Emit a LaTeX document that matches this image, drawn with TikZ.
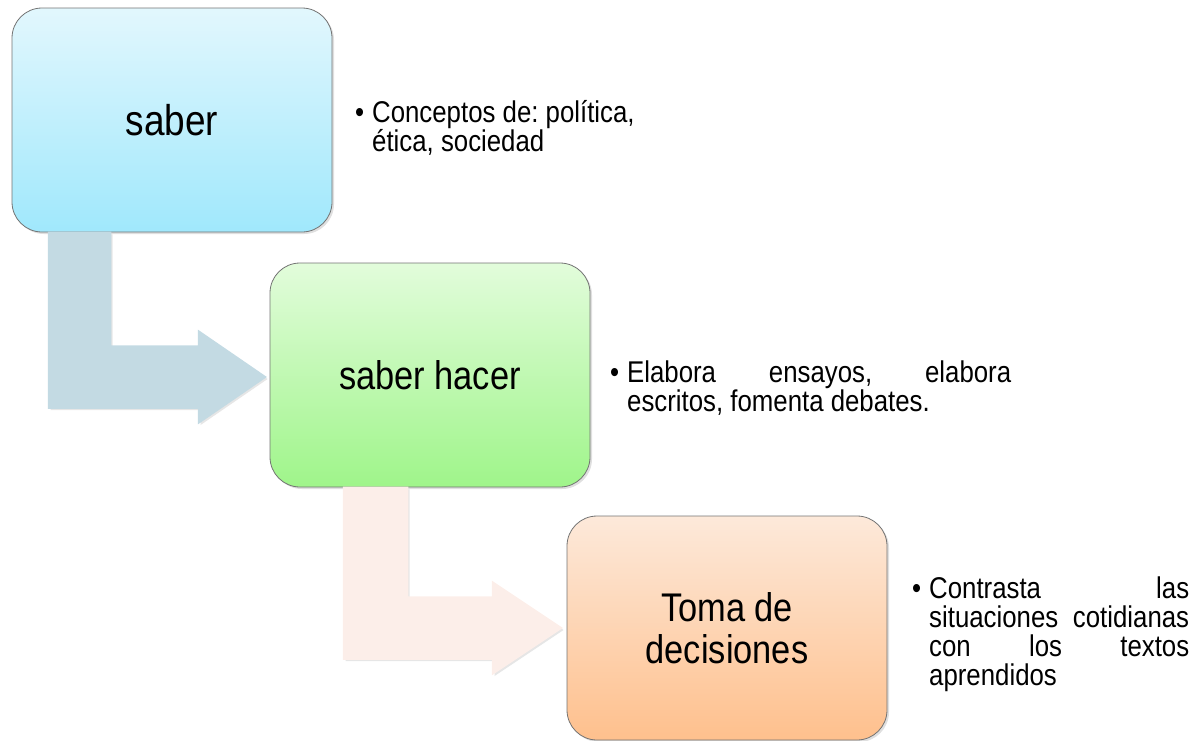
\documentclass[tikz,border=0pt]{standalone}
\usepackage{fontspec}
\setmainfont{Liberation Sans}[FakeStretch=0.86]
\usetikzlibrary{calc,shadows}
\definecolor{celeste1}{HTML}{E2F7FD}
\definecolor{celeste2}{HTML}{A0E8FC}
\definecolor{verde1}{HTML}{E2FCDB}
\definecolor{verde2}{HTML}{9FF58A}
\definecolor{naranja1}{HTML}{FDE9DA}
\definecolor{naranja2}{HTML}{FEC08D}
\definecolor{flechaazul}{HTML}{C3DAE3}
\definecolor{flecharosa}{HTML}{FCEEE9}
\tikzset{
	caja/.style={draw=black!55, line width=0.8pt, rounded corners=30pt,
		minimum width=320pt, minimum height=224pt, align=center,
		font=\fontsize{40pt}{42pt}\selectfont,
		drop shadow={opacity=0.25, shadow xshift=2pt, shadow yshift=-2pt}},
	flecha/.style={draw=white, line width=1.5pt, line join=miter,
		drop shadow={opacity=0.2, shadow xshift=2pt, shadow yshift=-2pt}},
	vineta/.style={inner sep=0pt, anchor=north west, align=left,
		font=\frenchspacing\fontsize{30pt}{29pt}\selectfont}
}
\newcommand\bala{\makebox[17pt][l]{•}}
\begin{document}
\begin{tikzpicture}[x=1pt, y=-1pt, line cap=round]
	\useasboundingbox (0,0) rectangle (1197,740);
	% cajas
	\node[caja, top color=celeste1, bottom color=celeste2] (saber) at (172,120)
		{\fontsize{43pt}{43pt}\selectfont\raisebox{-3pt}{saber}};
	\node[caja, top color=verde1, bottom color=verde2] (hacer) at (430,375) {\raisebox{-4pt}{saber hacer}};
	\node[caja, top color=naranja1, bottom color=naranja2] (toma) at (727,628) {Toma de\\decisiones};
	% flechas
	\coordinate (s1) at ($(saber.south west)+(37,0)$);
	\coordinate (t1) at ($(hacer.west)+(-4,2)$);
	\fill[flecha, flechaazul] (s1) -- ++(62,0) |- ($(t1)+(-67,-31)$) -- ++(0,-15) -- (t1)
		-- ($(t1)+(-67,46)$) -- ++(0,-15) -| (s1) -- cycle;
	\coordinate (s2) at ($(hacer.south west)+(74,0)$);
	\coordinate (t2) at ($(toma.west)+(-5,0)$);
	\fill[flecha, flecharosa] (s2) -- ++(64,0) |- ($(t2)+(-69,-31)$) -- ++(0,-15) -- (t2)
		-- ($(t2)+(-69,46)$) -- ++(0,-15) -| (s2) -- cycle;
	% textos
	\node[vineta] (b1) at (355,100) {\bala Conceptos de: política,\\\hspace*{17pt}ética, sociedad};
	\node[vineta] (b2) at (610,361) {\bala\makebox[384pt][s]{Elabora ensayos, elabora}\\
		\hspace*{17pt}escritos, fomenta debates.};
	\node[vineta] (b3) at (912,577) {\bala\makebox[260pt][s]{Contrasta las}\\
		\hspace*{17pt}\makebox[260pt][s]{situaciones cotidianas}\\
		\hspace*{17pt}\makebox[260pt][s]{con los textos}\\
		\hspace*{17pt}aprendidos};
\end{tikzpicture}
\end{document}
